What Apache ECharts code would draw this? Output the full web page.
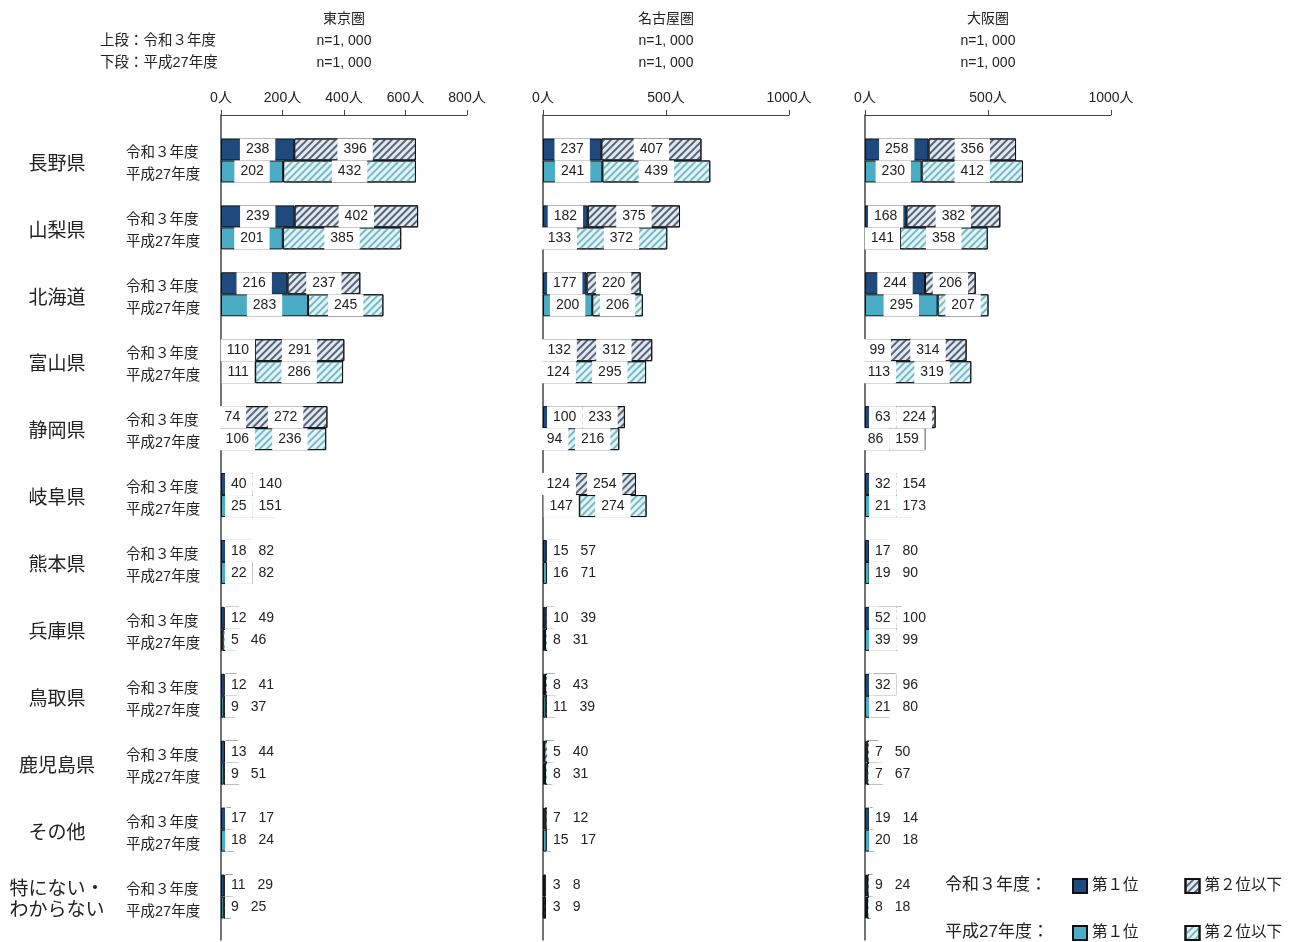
<!DOCTYPE html>
<html>
<head>
<meta charset="utf-8">
<title>移住先として関心のある都道府県</title>
<script src="https://cdn.jsdelivr.net/npm/echarts@6/dist/echarts.min.js"></script>
<style>
  html, body { margin: 0; padding: 0; background: #fff; }
  #chart { width: 1298px; height: 942px; }
</style>
</head>
<body>
<div id="chart"></div>
<script>
// ---- data ----
const categories = ['長野県', '山梨県', '北海道', '富山県', '静岡県', '岐阜県', '熊本県', '兵庫県', '鳥取県', '鹿児島県', 'その他', '特にない・\nわからない'];
const yearLabels = ['令和３年度', '平成27年度'];
const regionNames = ['東京圏', '名古屋圏', '大阪圏'];
const sampleSizeR3 = ['n=1, 000', 'n=1, 000', 'n=1, 000'];
const sampleSizeH27 = ['n=1, 000', 'n=1, 000', 'n=1, 000'];
const axisMax = [800, 1000, 1000];
const axisStep = [200, 500, 500];

// 東京圏
const tokyoR3First  = [238, 239, 216, 110, 74, 40, 18, 12, 12, 13, 17, 11];
const tokyoR3Rest   = [396, 402, 237, 291, 272, 140, 82, 49, 41, 44, 17, 29];
const tokyoH27First = [202, 201, 283, 111, 106, 25, 22, 5, 9, 9, 18, 9];
const tokyoH27Rest  = [432, 385, 245, 286, 236, 151, 82, 46, 37, 51, 24, 25];
// 名古屋圏
const nagoyaR3First  = [237, 182, 177, 132, 100, 124, 15, 10, 8, 5, 7, 3];
const nagoyaR3Rest   = [407, 375, 220, 312, 233, 254, 57, 39, 43, 40, 12, 8];
const nagoyaH27First = [241, 133, 200, 124, 94, 147, 16, 8, 11, 8, 15, 3];
const nagoyaH27Rest  = [439, 372, 206, 295, 216, 274, 71, 31, 39, 31, 17, 9];
// 大阪圏
const osakaR3First  = [258, 168, 244, 99, 63, 32, 17, 52, 32, 7, 19, 9];
const osakaR3Rest   = [356, 382, 206, 314, 224, 154, 80, 100, 96, 50, 14, 24];
const osakaH27First = [230, 141, 295, 113, 86, 21, 19, 39, 21, 7, 20, 8];
const osakaH27Rest  = [412, 358, 207, 319, 159, 173, 90, 99, 80, 67, 18, 18];

const panelData = [
  { r3: [tokyoR3First, tokyoR3Rest], h27: [tokyoH27First, tokyoH27Rest] },
  { r3: [nagoyaR3First, nagoyaR3Rest], h27: [nagoyaH27First, nagoyaH27Rest] },
  { r3: [osakaR3First, osakaR3Rest], h27: [osakaH27First, osakaH27Rest] }
];

// ---- styling ----
const FONT = '"Liberation Sans", "Noto Sans CJK JP", sans-serif';
const TEXT = '#222';
const LINE = '#444';
const panelLeft = [221, 543, 865];
const panelWidth = 246;

const seriesStyle = {
  r3First:  { color: '#1f4a7d', borderColor: '#111', borderWidth: 1 },
  r3Rest:   { color: '#e2e8ef', borderColor: '#111', borderWidth: 1,
              decal: { symbol: 'rect', symbolSize: 1, dashArrayX: [1, 0], dashArrayY: [1.6, 2.8], rotation: -Math.PI / 4, color: '#56667a' } },
  h27First: { color: '#4aacc5', borderColor: '#111', borderWidth: 1 },
  h27Rest:  { color: '#e4f5f8', borderColor: '#111', borderWidth: 1,
              decal: { symbol: 'rect', symbolSize: 1, dashArrayX: [1, 0], dashArrayY: [1.6, 2.8], rotation: -Math.PI / 4, color: '#78b9c8' } }
};

// text measuring for label placement
const measureCtx = document.createElement('canvas').getContext('2d');
measureCtx.font = '14px "Liberation Sans"';
const textW = s => measureCtx.measureText(String(s)).width;

// first label: centred on its segment if it fits, else just right of the base
function firstLabelLeft(base, segW, v) {
  const t = textW(v);
  return segW >= t + 2 ? base + segW / 2 - t / 2 : base + 10;
}

function layoutFirst(values) {
  return function (p) {
    const v = values[p.dataIndex];
    const t = textW(v);
    const cur = p.labelRect.x + (p.labelRect.width - t) / 2;
    const left = firstLabelLeft(p.rect.x, p.rect.width, v);
    return { dx: left - cur };
  };
}

// second label: centred on its segment, but kept clear of the first label
function layoutRest(firstVals, restVals) {
  return function (p) {
    const i = p.dataIndex;
    const v1 = firstVals[i], v2 = restVals[i];
    const scale = p.rect.width / v2;
    const w1 = v1 * scale;
    const base = p.rect.x - w1;
    const right1 = firstLabelLeft(base, w1, v1) + textW(v1);
    const t2 = textW(v2);
    const centred = p.rect.x + p.rect.width / 2 - t2 / 2;
    const left = Math.max(centred, right1 + 12);
    const cur = p.labelRect.x + (p.labelRect.width - t2) / 2;
    return { dx: left - cur };
  };
}

const barLabel = {
  show: true,
  position: 'inside',
  color: TEXT,
  fontFamily: FONT,
  fontSize: 14,
  lineHeight: 22,
  backgroundColor: '#fff',
  padding: [0, 6]
};

const grid = [], xAxis = [], yAxis = [], series = [], title = [];

regionNames.forEach((name, k) => {
  const left = panelLeft[k];
  // frame grid: axis lines and value ticks
  grid.push({ left: left, width: panelWidth, top: 115, bottom: 2 });
  // bar grid
  grid.push({ left: left, width: panelWidth, top: 127, height: 803 });

  xAxis.push({
    gridIndex: 2 * k, type: 'value', min: 0, max: axisMax[k], interval: axisStep[k],
    position: 'top',
    axisLine: { show: true, onZero: false, lineStyle: { color: LINE, width: 1 } },
    axisTick: { show: true, length: 5, lineStyle: { color: LINE } },
    axisLabel: { formatter: v => v + '人', color: TEXT, fontFamily: FONT, fontSize: 14, margin: 10 },
    splitLine: { show: false }
  });
  xAxis.push({ gridIndex: 2 * k + 1, type: 'value', min: 0, max: axisMax[k], show: false });

  yAxis.push({
    gridIndex: 2 * k, type: 'value', min: 0, max: 1,
    axisLine: { show: true, onZero: false, lineStyle: { color: LINE, width: 1.5 } },
    axisTick: { show: false }, axisLabel: { show: false }, splitLine: { show: false }
  });
  yAxis.push({
    gridIndex: 2 * k + 1, type: 'category', data: categories, inverse: true,
    axisLine: { show: false }, axisTick: { show: false }, axisLabel: { show: false }
  });

  const d = panelData[k];
  const common = { type: 'bar', xAxisIndex: 2 * k + 1, yAxisIndex: 2 * k + 1, barWidth: 22, barGap: '0%', animation: false };
  series.push(Object.assign({}, common, {
    name: '令和３年度 第１位', stack: 'r3-' + k, data: d.r3[0],
    itemStyle: seriesStyle.r3First, label: barLabel, labelLayout: layoutFirst(d.r3[0])
  }));
  series.push(Object.assign({}, common, {
    name: '令和３年度 第２位以下', stack: 'r3-' + k, data: d.r3[1],
    itemStyle: seriesStyle.r3Rest, label: barLabel, labelLayout: layoutRest(d.r3[0], d.r3[1])
  }));
  series.push(Object.assign({}, common, {
    name: '平成27年度 第１位', stack: 'h27-' + k, data: d.h27[0],
    itemStyle: seriesStyle.h27First, label: barLabel, labelLayout: layoutFirst(d.h27[0])
  }));
  series.push(Object.assign({}, common, {
    name: '平成27年度 第２位以下', stack: 'h27-' + k, data: d.h27[1],
    itemStyle: seriesStyle.h27Rest, label: barLabel, labelLayout: layoutRest(d.h27[0], d.h27[1])
  }));

  // panel header
  const cx = left + panelWidth / 2;
  const headStyle = { color: TEXT, fontFamily: FONT, fontSize: 14, fontWeight: 'normal' };
  title.push({ text: name, left: cx, top: 12, textAlign: 'center', textStyle: headStyle, padding: 0 });
  title.push({ text: sampleSizeR3[k], left: cx, top: 34, textAlign: 'center', textStyle: headStyle, padding: 0 });
  title.push({ text: sampleSizeH27[k], left: cx, top: 56, textAlign: 'center', textStyle: headStyle, padding: 0 });
});

// row-label grid beside the first panel (category names and year sub-labels)
grid.push({ left: panelLeft[0], width: panelWidth, top: 131, height: 803 });
xAxis.push({ gridIndex: 6, type: 'value', min: 0, max: 1, show: false });
yAxis.push({
  gridIndex: 6, type: 'category', data: categories, inverse: true,
  axisLine: { show: false }, axisTick: { show: false },
  axisLabel: { show: true, margin: 164, align: 'center', color: TEXT, fontFamily: FONT, fontSize: 19, lineHeight: 21 }
});
yAxis.push({
  gridIndex: 6, type: 'category', data: categories, inverse: true, position: 'left',
  axisLine: { show: false }, axisTick: { show: false },
  axisLabel: {
    show: true, margin: 95, align: 'left', color: TEXT, fontFamily: FONT, fontSize: 14.5, lineHeight: 22,
    formatter: () => yearLabels.join('\n')
  }
});

const noteStyle = { color: TEXT, fontFamily: FONT, fontSize: 14.5, fontWeight: 'normal' };
title.push({ text: '上段：令和３年度', left: 100, top: 34, textStyle: noteStyle, padding: 0 });
title.push({ text: '下段：平成27年度', left: 100, top: 56, textStyle: noteStyle, padding: 0 });

const legendHead = { color: TEXT, fontFamily: FONT, fontSize: 17, fontWeight: 'normal' };
title.push({ text: '令和３年度：', left: 945, top: 877, textStyle: legendHead, padding: 0 });
title.push({ text: '平成27年度：', left: 945, top: 924, textStyle: legendHead, padding: 0 });

const legendBase = {
  left: 1072, orient: 'horizontal', icon: 'rect', itemWidth: 14, itemHeight: 14, itemGap: 46,
  padding: 0, selectedMode: false,
  textStyle: { color: TEXT, fontFamily: FONT, fontSize: 15.5 },
  formatter: n => n.split(' ')[1]
};
const legend = [
  Object.assign({}, legendBase, { top: 878, data: ['令和３年度 第１位', '令和３年度 第２位以下'] }),
  Object.assign({}, legendBase, { top: 925, data: ['平成27年度 第１位', '平成27年度 第２位以下'] })
];

const chart = echarts.init(document.getElementById('chart'), null, { renderer: 'canvas' });
chart.setOption({
  backgroundColor: '#fff',
  animation: false,
  title, legend, grid, xAxis, yAxis, series
});
</script>
</body>
</html>
